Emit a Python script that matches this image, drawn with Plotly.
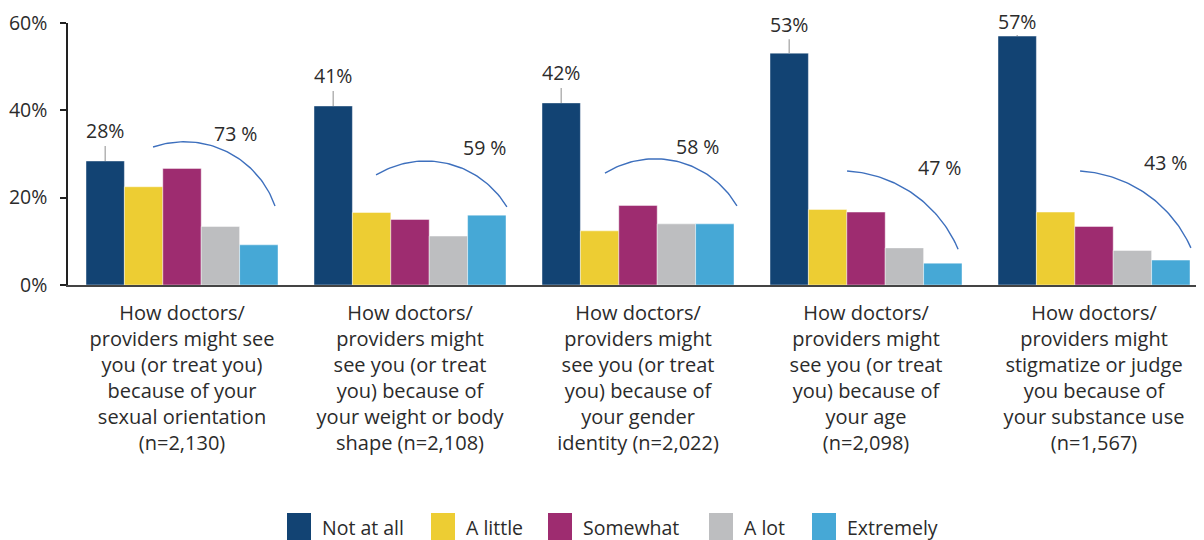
import numpy as np
import plotly.graph_objects as go

# ---------------- data ----------------
categories = [
    "How doctors/<br>providers might see<br>you (or treat you)<br>because of your<br>sexual orientation<br>(n=2,130)",
    "How doctors/<br>providers might<br>see you (or treat<br>you) because of<br>your weight or body<br>shape (n=2,108)",
    "How doctors/<br>providers might<br>see you (or treat<br>you) because of<br>your gender<br>identity (n=2,022)",
    "How doctors/<br>providers might<br>see you (or treat<br>you) because of<br>your age<br>(n=2,098)",
    "How doctors/<br>providers might<br>stigmatize or judge<br>you because of<br>your substance use<br>(n=1,567)",
]
series_names = ["Not at all", "A little", "Somewhat", "A lot", "Extremely"]
not_at_all = [28.4, 41.0, 41.7, 53.1, 57.0]
a_little = [22.5, 16.6, 12.4, 17.3, 16.7]
somewhat = [26.7, 15.0, 18.2, 16.7, 13.4]
a_lot = [13.4, 11.2, 14.0, 8.5, 7.9]
extremely = [9.2, 16.0, 14.0, 5.0, 5.7]
not_at_all_labels = ["28%", "41%", "42%", "53%", "57%"]
any_concern_labels = ["73 %", "59 %", "58 %", "47 %", "43 %"]
y_tickvals = [0, 20, 40, 60]
y_ticktext = ["0%", "20%", "40%", "60%"]

series_values = [not_at_all, a_little, somewhat, a_lot, extremely]
colors = ["#124373", "#EDCD33", "#9E2C70", "#BDBEC0", "#46A8D6"]

# ---------------- geometry / style ----------------
FONT = "Open Sans"
FS = 19.5
FS_CAT = 20
TXT = "#2b2b2b"
OFF = 8                      # page body margin of the browser
W, H = 1204 - OFF, 540 - OFF
ML, MT = 68 - OFF, 23 - OFF
PLOT_H = 262
MB = H - MT - PLOT_H
PX_PER_CAT = 228.0
PLOT_W = W - ML
XMAX = -0.5 + PLOT_W / PX_PER_CAT
PX_PER_PCT = PLOT_H / 60.0
BARGAP = 1 - 192.0 / PX_PER_CAT
BAR_W = (1 - BARGAP) / 5.0

x_idx = list(range(len(categories)))

fig = go.Figure()
for name, vals, col in zip(series_names, series_values, colors):
    fig.add_trace(go.Bar(
        x=x_idx, y=vals, name=name, marker_color=col,
        marker_line=dict(color="rgba(255,255,255,0.55)", width=0.8),
        showlegend=False, hoverinfo="name+y",
    ))

annotations = []
# value labels on "Not at all" bars with leader lines
label_lift = [-30, -30, -30, -29, -15]
label_pad = [1, 1, 1, 1, 0]
for i, (v, lab) in enumerate(zip(not_at_all, not_at_all_labels)):
    annotations.append(dict(
        x=i - 2 * BAR_W, y=v, xref="x", yref="y", text=lab,
        showarrow=True, arrowhead=0, arrowwidth=1.3, arrowcolor="#a8a8a8",
        ax=0, ay=label_lift[i], borderpad=label_pad[i],
        font=dict(family=FONT, size=FS, color=TXT),
    ))

# arcs (style geometry: offsets from group centre, in axis units / %)
arc_start = [(-0.127, 31.6), (-0.149, 25.2), (-0.145, 25.6), (-0.083, 26.1), (-0.061, 26.1)]
arc_mid = [(0.020, 32.8), (0.066, 28.4), (0.075, 28.9), (0.180, 21.8), (0.202, 21.8)]
arc_end = [(0.408, 18.1), (0.425, 17.9), (0.434, 18.1), (0.404, 8.2), (0.425, 8.5)]
label_pos = [(0.237, 34.8), (0.329, 31.6), (0.263, 31.8), (0.325, 26.9), (0.316, 28.0)]


def circle_arc(p0, p1, p2, n=60):
    P = [np.array([p[0] * PX_PER_CAT, p[1] * PX_PER_PCT]) for p in (p0, p1, p2)]
    ax_, ay_ = P[0]; bx, by = P[1]; cx, cy = P[2]
    d = 2 * (ax_ * (by - cy) + bx * (cy - ay_) + cx * (ay_ - by))
    ux = ((ax_**2 + ay_**2) * (by - cy) + (bx**2 + by**2) * (cy - ay_) + (cx**2 + cy**2) * (ay_ - by)) / d
    uy = ((ax_**2 + ay_**2) * (cx - bx) + (bx**2 + by**2) * (ax_ - cx) + (cx**2 + cy**2) * (bx - ax_)) / d
    r = np.hypot(ax_ - ux, ay_ - uy)
    a0 = np.arctan2(ay_ - uy, ax_ - ux)
    a1 = np.arctan2(by - uy, bx - ux)
    a2 = np.arctan2(cy - uy, cx - ux)

    def norm(a):
        return a % (2 * np.pi)
    cw = norm(a0 - a2)
    if norm(a0 - a1) <= cw:
        angs = a0 - np.linspace(0, cw, n)
    else:
        angs = a0 + np.linspace(0, norm(a2 - a0), n)
    xs = (ux + r * np.cos(angs)) / PX_PER_CAT
    ys = (uy + r * np.sin(angs)) / PX_PER_PCT
    return xs, ys


for i in x_idx:
    xs, ys = circle_arc(arc_start[i], arc_mid[i], arc_end[i])
    fig.add_trace(go.Scatter(
        x=xs + i, y=ys, mode="lines", line=dict(color="#3d6fbd", width=1.4),
        showlegend=False, hoverinfo="skip", cliponaxis=False,
    ))
    annotations.append(dict(
        x=i + label_pos[i][0], y=label_pos[i][1], xref="x", yref="y",
        text=any_concern_labels[i], showarrow=False,
        font=dict(family=FONT, size=FS, color=TXT),
    ))

# manual legend (tall swatches); positions in page pixels
legend_sq_x = [287, 431, 548, 709, 812]
shapes = []


def px_to_paper_x(px):
    return (px - OFF - ML) / PLOT_W


def px_to_paper_y(py):
    return (MT + PLOT_H - (py - OFF)) / PLOT_H


for name, col, sx in zip(series_names, colors, legend_sq_x):
    shapes.append(dict(
        type="rect", xref="paper", yref="paper",
        x0=px_to_paper_x(sx), x1=px_to_paper_x(sx + 24),
        y0=px_to_paper_y(513), y1=px_to_paper_y(545),
        fillcolor=col, line=dict(width=0),
    ))
    annotations.append(dict(
        x=px_to_paper_x(sx + 33), y=px_to_paper_y(527),
        xref="paper", yref="paper", xanchor="left", yanchor="middle",
        text=name, showarrow=False,
        font=dict(family=FONT, size=FS, color=TXT),
    ))

fig.update_layout(
    width=W, height=H,
    margin=dict(l=ML, r=0, t=MT, b=MB, pad=0),
    paper_bgcolor="white", plot_bgcolor="white",
    barmode="group", bargap=BARGAP, bargroupgap=0,
    font=dict(family=FONT, color=TXT),
    annotations=annotations, shapes=shapes,
    showlegend=False,
)
fig.update_xaxes(
    range=[-0.5, XMAX], tickmode="array", tickvals=x_idx, ticktext=categories,
    showgrid=False, zeroline=False, showline=True, linecolor="#444", linewidth=1.5,
    ticks="", ticklabelstandoff=9, tickfont=dict(family=FONT, size=FS_CAT, color=TXT),
    fixedrange=True,
)
fig.update_yaxes(
    range=[0, 60], tickmode="array", tickvals=y_tickvals, ticktext=y_ticktext,
    showgrid=False, zeroline=False, showline=True, linecolor="#222", linewidth=1.5,
    ticks="outside", ticklen=6, tickcolor="#222", tickwidth=1.5,
    ticklabelstandoff=9, tickfont=dict(family=FONT, size=FS, color=TXT),
    fixedrange=True,
)

fig.write_html("out.html")
